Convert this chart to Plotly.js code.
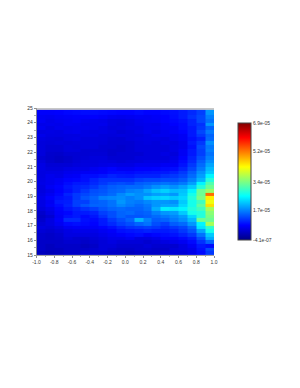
<!DOCTYPE html>
<html><head><meta charset="utf-8">
<script src="https://cdn.plot.ly/plotly-3.0.0.min.js"></script>
<style>html,body{margin:0;padding:0;background:#fff}</style></head>
<body><div id="chart" style="width:300px;height:388px"></div>
<script>
const xEdges=[-1,-0.9,-0.8,-0.7,-0.6,-0.5,-0.4,-0.3,-0.2,-0.1,0,0.1,0.2,0.3,0.4,0.5,0.6,0.7,0.8,0.9,1];
const yEdges=[15,15.25,15.5,15.75,16,16.25,16.5,16.75,17,17.25,17.5,17.75,18,18.25,18.5,18.75,19,19.25,19.5,19.75,20,20.25,20.5,20.75,21,21.25,21.5,21.75,22,22.25,22.5,22.75,23,23.25,23.5,23.75,24,24.25,24.5,24.87];
// values in units of 1e-5, rows listed from the top of the chart downward
const rowsTopDown=[
[.80,.80,.82,.86,.88,.90,.90,.88,.86,.84,.84,.88,.84,.84,.88,.92,1.0,1.1,1.25,1.85],
[.74,.72,.76,.78,.80,.80,.82,.78,.72,.70,.72,.76,.74,.78,.82,.90,1.0,1.15,1.3,1.7],
[.76,.68,.72,.74,.78,.72,.70,.68,.62,.60,.64,.70,.74,.76,.82,.86,.92,1.05,1.3,1.6],
[.68,.70,.68,.74,.72,.68,.68,.70,.62,.58,.62,.68,.70,.68,.76,.82,.88,1.05,1.15,1.85],
[.72,.64,.70,.68,.70,.70,.68,.64,.58,.60,.64,.64,.70,.70,.76,.76,.88,.98,1.2,1.5],
[.62,.64,.62,.68,.70,.64,.62,.64,.60,.54,.58,.64,.70,.64,.70,.78,.84,.98,1.3,1.65],
[.68,.62,.62,.62,.62,.64,.64,.58,.58,.60,.58,.58,.64,.70,.70,.70,.76,.98,1.2,1.5],
[.62,.58,.56,.62,.64,.58,.58,.58,.54,.52,.58,.62,.64,.64,.62,.70,.76,.92,1.05,1.55],
[.58,.56,.58,.56,.58,.58,.58,.56,.52,.52,.52,.58,.62,.58,.64,.62,.70,.98,1.2,1.8],
[.58,.52,.52,.58,.56,.58,.58,.52,.52,.48,.52,.58,.58,.58,.58,.64,.70,.92,1.3,1.65],
[.58,.52,.52,.58,.58,.52,.52,.52,.48,.48,.52,.58,.58,.58,.58,.64,.76,.98,1.25,1.7],
[.58,.48,.46,.52,.52,.52,.54,.54,.48,.52,.52,.52,.58,.58,.64,.58,.76,.98,1.25,1.6],
[.52,.46,.42,.46,.52,.54,.58,.58,.52,.52,.52,.58,.58,.58,.58,.64,.82,1.05,1.35,1.7],
[.58,.48,.42,.48,.54,.58,.58,.60,.58,.54,.58,.58,.64,.64,.64,.70,.88,1.1,1.45,1.8],
[.64,.54,.54,.54,.58,.60,.60,.64,.66,.64,.64,.70,.70,.70,.76,.76,.94,1.2,1.55,1.95],
[.64,.58,.58,.64,.66,.66,.72,.78,.84,.76,.76,.82,.82,.84,.88,.90,1.05,1.3,1.65,2.1],
[.62,.64,.64,.70,.72,.76,.78,.80,.88,.90,.88,.92,.94,.96,.98,1.05,1.2,1.45,1.8,2.2],
[.62,.70,.66,.76,.78,.90,.90,.96,1.05,1.0,.98,1.05,1.05,1.05,1.15,1.2,1.3,1.55,1.9,2.5],
[.64,.70,.76,.84,.86,.92,1.05,1.15,1.15,1.15,1.15,1.25,1.3,1.3,1.35,1.35,1.45,1.7,2.05,2.8],
[.66,.70,.78,.90,.98,1.0,1.1,1.2,1.3,1.35,1.3,1.45,1.5,1.55,1.6,1.55,1.65,1.9,2.5,3.1],
[.62,.76,.84,.96,1.05,1.1,1.2,1.35,1.45,1.5,1.55,1.55,1.65,1.8,1.9,1.8,1.95,2.2,2.8,3.3],
[.60,.68,.82,.92,1.05,1.2,1.35,1.4,1.5,1.55,1.7,1.75,1.95,2.15,2.25,2.1,2.15,2.5,3.3,3.6],
[.64,.74,.86,1.05,1.2,1.3,1.4,1.45,1.55,1.75,1.9,1.8,1.8,1.9,1.95,1.85,2.2,2.7,3.3,5.3],
[.68,.82,.92,.98,1.2,1.4,1.5,1.7,1.75,1.8,1.7,1.8,2.15,2.25,2.3,2.2,2.3,2.8,3.4,4.4],
[.64,.74,.98,1.02,1.25,1.25,1.45,1.5,1.6,1.85,1.7,1.65,1.75,1.85,1.85,1.8,2.2,2.7,3.0,4.2],
[.64,.78,.90,1.05,1.25,1.4,1.5,1.5,1.6,1.75,1.65,1.55,1.65,1.85,1.95,1.95,2.3,2.7,3.2,4.5],
[.58,.68,.84,.96,1.05,1.15,1.25,1.4,1.5,1.55,1.5,1.5,1.6,2.0,2.45,2.4,2.5,2.8,3.0,3.7],
[.48,.62,.80,.86,.98,1.0,1.05,1.25,1.35,1.5,1.55,1.45,1.5,1.7,1.85,1.9,2.2,2.7,2.8,3.5],
[.42,.52,.76,.92,.98,.88,.96,1.15,1.35,1.5,1.4,1.4,1.45,1.55,1.65,1.75,1.9,2.3,2.8,3.4],
[.48,.62,.80,1.1,1.1,.92,.88,1.0,1.2,1.35,1.5,2.05,1.7,1.45,1.5,1.65,1.8,2.1,3.3,3.3],
[.54,.62,.74,.88,.92,.88,.84,.98,1.1,1.25,1.35,1.5,1.6,1.35,1.25,1.45,1.55,1.85,2.5,3.7],
[.60,.56,.64,.74,.78,.78,.78,.84,.92,1.05,1.15,1.2,1.25,1.2,1.1,1.2,1.3,1.55,2.4,2.9],
[.54,.50,.56,.64,.68,.68,.68,.74,.80,.92,.96,1.0,1.05,1.0,1.0,1.05,1.2,1.4,1.95,2.7],
[.48,.44,.50,.62,.62,.62,.62,.68,.74,.80,.86,.90,.80,.86,.90,.94,1.05,1.2,1.6,2.2],
[.48,.44,.48,.56,.50,.50,.56,.62,.68,.68,.74,.62,.62,.68,.80,.80,.88,1.0,1.35,2.0],
[.44,.44,.44,.50,.50,.44,.50,.56,.62,.56,.56,.56,.50,.56,.62,.68,.74,.88,1.15,1.5],
[.44,.38,.44,.44,.44,.38,.44,.56,.56,.50,.50,.50,.56,.50,.50,.50,.62,.76,.98,.90],
[.44,.38,.38,.44,.44,.44,.50,.56,.50,.44,.44,.50,.50,.44,.44,.56,.62,.68,.92,1.3],
[.38,.34,.38,.44,.44,.50,.50,.50,.44,.44,.38,.44,.44,.44,.50,.56,.56,.68,.88,1.2]
];
const zValues=rowsTopDown.slice().reverse().map(r=>r.map(v=>v*1e-5));
const cbTicks=[-4.1e-7,1.7e-5,3.4e-5,5.2e-5,6.9e-5];
const cbLabels=['-4.1e-07','1.7e-05','3.4e-05','5.2e-05','6.9e-05'];
const jet=[[0,'#000083'],[0.125,'#0000ff'],[0.375,'#00ffff'],[0.625,'#ffff00'],[0.875,'#ff0000'],[1,'#800000']];
const fnt={family:'Liberation Sans, Arial, sans-serif',size:5,color:'#333'};
Plotly.newPlot('chart',[{
  type:'heatmap',x:xEdges,y:yEdges,z:zValues,zmin:-4.1e-7,zmax:6.9e-5,colorscale:jet,zsmooth:false,
  colorbar:{x:238/300,xanchor:'left',xref:'paper',thickness:13,thicknessmode:'pixels',len:117/388,lenmode:'fraction',
    y:1-123/388,yanchor:'top',tickmode:'array',tickvals:cbTicks,ticktext:cbLabels,tickfont:fnt,ticks:'',
    outlinecolor:'#444',outlinewidth:1,xpad:0,ypad:0,ticklabelposition:'outside'}
}],{
  width:300,height:388,margin:{l:0,r:0,t:0,b:0},paper_bgcolor:'#fff',plot_bgcolor:'#c8c8c8',showlegend:false,
  xaxis:{domain:[36.5/300,214/300],range:[-1,1],tickmode:'array',tickvals:[-1,-0.8,-0.6,-0.4,-0.2,0,0.2,0.4,0.6,0.8,1],
    ticktext:['-1.0','-0.8','-0.6','-0.4','-0.2','0.0','0.2','0.4','0.6','0.8','1.0'],
    ticks:'outside',ticklen:2,tickwidth:0.6,tickcolor:'#444',tickfont:fnt,showgrid:false,zeroline:false,showline:true,linecolor:'#666',linewidth:0.6,
    minor:{tickvals:[-0.9,-0.7,-0.5,-0.3,-0.1,0.1,0.3,0.5,0.7,0.9],ticks:'outside',ticklen:1.5,tickwidth:0.5,tickcolor:'#666'}},
  yaxis:{domain:[1-255/388,1-108/388],range:[15,25],tickmode:'array',tickvals:[15,16,17,18,19,20,21,22,23,24,25],
    ticks:'outside',ticklen:2,tickwidth:0.6,tickcolor:'#444',tickfont:fnt,showgrid:false,zeroline:false,showline:true,linecolor:'#666',linewidth:0.6,
    minor:{tickvals:[15.5,16.5,17.5,18.5,19.5,20.5,21.5,22.5,23.5,24.5],ticks:'outside',ticklen:1.5,tickwidth:0.5,tickcolor:'#666'}}
},{displayModeBar:false,staticPlot:true});
</script></body></html>
